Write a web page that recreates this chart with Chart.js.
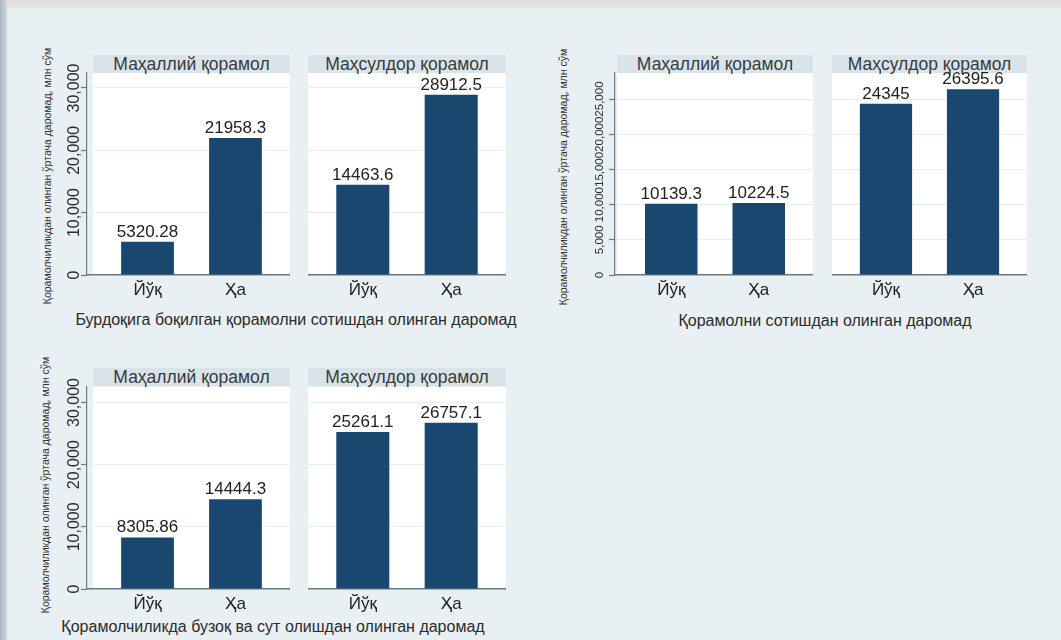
<!DOCTYPE html>
<html><head><meta charset="utf-8">
<script src="https://cdn.jsdelivr.net/npm/chart.js@4.4.1/dist/chart.umd.min.js"></script>
<style>
html,body{margin:0;padding:0;}
body{width:1061px;height:640px;position:relative;overflow:hidden;background:#e9f0f3;font-family:'Liberation Sans',Arial,sans-serif;}
.topstrip{position:absolute;left:0;top:0;width:1061px;height:8px;background:linear-gradient(#e0dcdb,#e7e5e4);}
.leftstrip{position:absolute;left:0;top:0;width:7px;height:640px;background:linear-gradient(to right,#a9b6c0,#d3d9dd);}
.hdr{position:absolute;height:18px;background:#d8e4ea;color:#3a3a3a;font-size:17.5px;line-height:19px;text-align:center;white-space:nowrap;}
.plot{position:absolute;background:#ffffff;}
.ytitle{position:absolute;font-size:10.5px;color:#333;white-space:nowrap;transform:translate(-50%,-50%) rotate(-90deg);}
.ctitle{position:absolute;font-size:16px;color:#2b2b2b;white-space:nowrap;transform:translate(-50%,-50%);}
canvas{position:absolute;}
</style></head>
<body>
<div class="topstrip"></div><div class="leftstrip"></div>
<script>
// ---- data ----
const categories = ['Йўқ', 'Ҳа'];
const panelNames = ['Маҳаллий қорамол', 'Маҳсулдор қорамол'];
const chartTitles = [
  'Бурдоқига боқилган қорамолни сотишдан олинган даромад',
  'Қорамолни сотишдан олинган даромад',
  'Қорамолчиликда бузоқ ва сут олишдан олинган даромад'
];
const yAxisTitle = 'Қорамолчиликдан олинган ўртача даромад, млн сўм';
const fattenedLocal = [5320.28, 21958.3];
const fattenedProductive = [14463.6, 28912.5];
const salesLocal = [10139.3, 10224.5];
const salesProductive = [24345, 26395.6];
const calfMilkLocal = [8305.86, 14444.3];
const calfMilkProductive = [25261.1, 26757.1];
const ticksA = [0, 10000, 20000, 30000];
const ticksB = [0, 5000, 10000, 15000, 20000, 25000];

// ---- layout ----
const panelsTop = [{axis:87, left:93, right:290}, {left:308, right:506}];
const panelsRight = [{axis:615, left:617, right:813}, {left:832, right:1027}];
const layouts = [
  {values:[fattenedLocal, fattenedProductive], ticks:ticksA, yMax:32400, top:73, bottom:275, hdrTop:55,
   panels:panelsTop, tickFont:16, tickOff:12, yTitle:[47,176], title:[296,320]},
  {values:[salesLocal, salesProductive], ticks:ticksB, yMax:28700, top:73, bottom:275, hdrTop:55,
   panels:panelsRight, tickFont:11.5, tickOff:15, yTitle:[563,177], title:[825,321]},
  {values:[calfMilkLocal, calfMilkProductive], ticks:ticksA, yMax:32500, top:387, bottom:589, hdrTop:368,
   panels:panelsTop, tickFont:16, tickOff:12, yTitle:[45,485], title:[273,627]}
];

const FONT = "'Liberation Sans', Arial, sans-serif";
const BAR = '#1a476f';
const GRID = '#e6eef1';
const AXIS = '#6e7a80';
const fmt = v => v.toLocaleString('en-US');

const valueLabels = {
  id: 'valueLabels',
  afterDatasetsDraw(chart) {
    const ctx = chart.ctx;
    ctx.save();
    ctx.font = '17px ' + FONT;
    ctx.fillStyle = '#222';
    ctx.textAlign = 'center';
    ctx.textBaseline = 'alphabetic';
    const ds = chart.data.datasets[0];
    chart.getDatasetMeta(0).data.forEach((bar, i) => {
      ctx.fillText(String(ds.data[i].y), bar.x, bar.y - 5);
    });
    ctx.restore();
  }
};
const rotatedYTicks = {
  id: 'rotatedYTicks',
  afterDraw(chart, args, opts) {
    if (!opts.show) return;
    const ys = chart.scales.y;
    const ctx = chart.ctx;
    ctx.save();
    ctx.font = opts.size + 'px ' + FONT;
    ctx.fillStyle = '#2a2a2a';
    ctx.textAlign = 'center';
    ctx.textBaseline = 'middle';
    ys.ticks.forEach(t => {
      const y = ys.getPixelForValue(t.value);
      ctx.save();
      ctx.translate(ys.right - opts.off, y);
      ctx.rotate(-Math.PI / 2);
      ctx.fillText(fmt(t.value), 0, 0);
      ctx.restore();
    });
    ctx.restore();
  }
};

function addDiv(cls, css, text) {
  const d = document.createElement('div');
  d.className = cls;
  Object.assign(d.style, css);
  if (text !== undefined) d.textContent = text;
  document.body.appendChild(d);
  return d;
}

layouts.forEach((L, ci) => {
  addDiv('ytitle', {left: L.yTitle[0] + 'px', top: L.yTitle[1] + 'px'}, yAxisTitle);
  addDiv('ctitle', {left: L.title[0] + 'px', top: L.title[1] + 'px'}, chartTitles[ci]);
  L.panels.forEach((P, pi) => {
    const isLeft = pi === 0;
    addDiv('plot', {left:P.left+'px', top:L.top+'px', width:(P.right-P.left)+'px', height:(L.bottom-L.top)+'px'});
    addDiv('hdr', {left:P.left+'px', top:L.hdrTop+'px', width:(P.right-P.left)+'px'}, panelNames[pi]);
    const chartLeft = isLeft ? P.axis : P.left;
    const yW = isLeft ? 36 : 0;
    const padTop = 22, xH = 36;
    const cv = document.createElement('canvas');
    const cw = P.right - chartLeft + yW;
    const ch = (L.bottom - L.top) + padTop + xH;
    cv.style.left = (chartLeft - yW) + 'px';
    cv.style.top = (L.top - padTop) + 'px';
    cv.style.width = cw + 'px';
    cv.style.height = ch + 'px';
    cv.width = cw; cv.height = ch;
    document.body.appendChild(cv);
    const unit = (P.right - P.left) / 2.24;
    const xMin = -0.62 - (P.left - chartLeft) / unit;
    const xMax = 1.62;
    new Chart(cv, {
      type: 'bar',
      data: {
        datasets: [{
          data: L.values[pi].map((v, i) => ({x: i, y: v})),
          backgroundColor: BAR,
          borderWidth: 0,
          barPercentage: 0.6,
          categoryPercentage: 1
        }]
      },
      options: {
        responsive: false,
        animation: false,
        devicePixelRatio: 1,
        layout: {padding: {top: padTop, left: 0, right: 0, bottom: 0}},
        plugins: {legend: {display: false}, tooltip: {enabled: false}, title: {display: false},
                  rotatedYTicks: {show: isLeft, size: L.tickFont, off: L.tickOff}},
        scales: {
          x: {
            type: 'linear', bounds: 'data', min: xMin, max: xMax, offset: false,
            afterBuildTicks: s => { s.ticks = categories.map((c, i) => ({value: i})); },
            afterFit: s => { s.height = xH; },
            ticks: {callback: v => categories[v], font: {size: 17, family: FONT}, color: '#222',
                    padding: 5, maxRotation: 0, autoSkip: false},
            grid: {display: false, drawTicks: false},
            border: {display: true, color: AXIS, width: 1.5}
          },
          y: {
            min: 0, max: L.yMax,
            afterBuildTicks: s => { s.ticks = L.ticks.map(v => ({value: v})); },
            afterFit: s => { s.width = yW; },
            ticks: {display: false},
            grid: {color: GRID, lineWidth: 1, drawTicks: isLeft, tickLength: 6, tickColor: AXIS, tickWidth: 1.2},
            border: {display: isLeft, color: AXIS, width: 1.2}
          }
        }
      },
      plugins: [valueLabels, rotatedYTicks]
    });
  });
});
</script>
</body></html>
